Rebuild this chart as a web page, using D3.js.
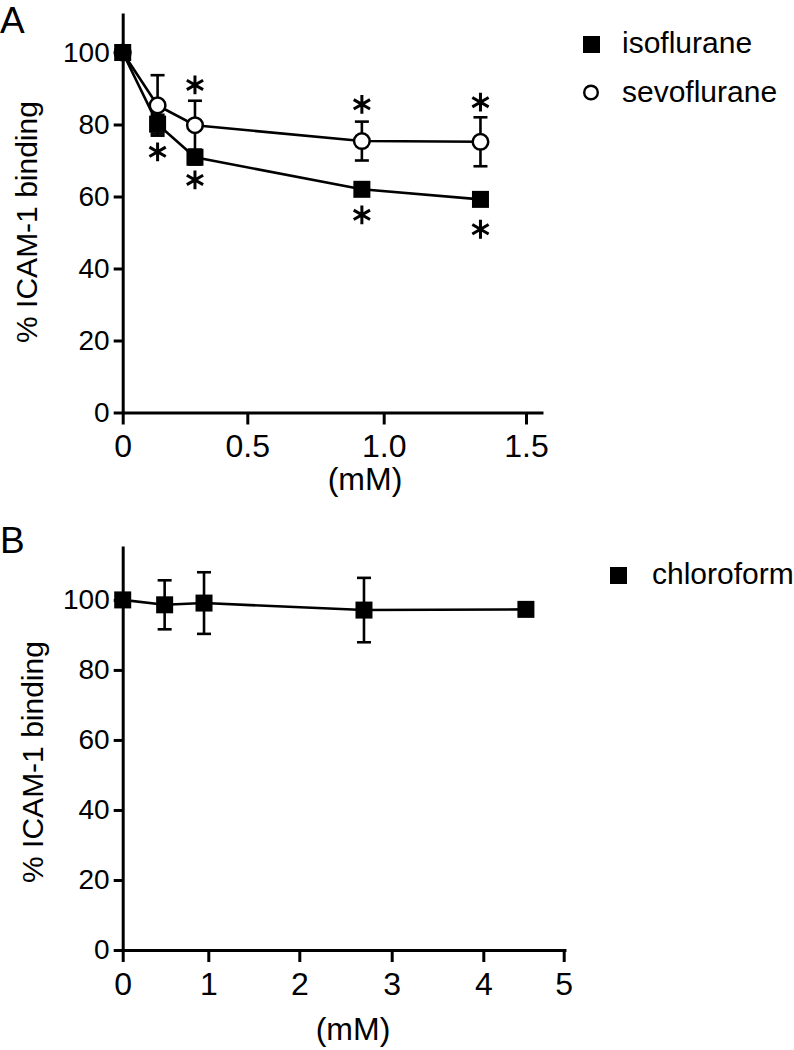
<!DOCTYPE html>
<html>
<head>
<meta charset="utf-8">
<script src="https://cdn.jsdelivr.net/npm/d3@7/dist/d3.min.js"></script>
<style>
  html, body { margin: 0; padding: 0; background: #fff; }
  svg { display: block; }
  text { font-family: "Liberation Sans", Arial, sans-serif; fill: #000; }
</style>
</head>
<body>
<svg id="chart" width="794" height="1050"></svg>
<script>
// ---------- Panel A data ----------
const concA = [0, 0.14, 0.29, 0.92, 1.34];
const isoMean = [100, 80.1, 70.9, 62.0, 59.2];
const isoErr = [0, 2.6, 2.0, 1.0, 1.0];
const sevoMean = [100, 85.3, 79.8, 75.4, 75.2];
const sevoErr = [0, 8.4, 6.8, 5.4, 6.8];
const isoStar = [null, 72.4, 64.6, 54.9, 50.9];
const sevoStar = [null, null, 91.0, 85.6, 86.2];
const xTicksA = [0, 0.5, 1.0, 1.5];
const xTickLabelsA = ["0", "0.5", "1.0", "1.5"];
const yTicks = [0, 20, 40, 60, 80, 100];
const legendA = ["isoflurane", "sevoflurane"];

// ---------- Panel B data ----------
const concB = [0, 0.49, 0.95, 2.7, 4.53];
const chloroMean = [100, 98.6, 99.1, 97.1, 97.3];
const chloroErr = [0, 7.0, 8.8, 9.2, 0];
const xTicksB = [0, 1, 2, 3, 4, 5];
const legendB = ["chloroform"];

const svg = d3.select("#chart");
const LW = 2.6;
const NARROW = '"Liberation Sans Narrow", "Arial Narrow", "Liberation Sans", Arial, sans-serif';

function drawAxes(g, x, y, xTicks, xLabels) {
  const ay = g.append("g")
    .attr("transform", `translate(${x(0)},0)`)
    .call(d3.axisLeft(y).tickValues(yTicks).tickSize(9).tickSizeOuter(0).tickPadding(4).tickFormat(d3.format("d")));
  ay.select(".domain").attr("stroke-width", 3);
  ay.selectAll(".tick line").attr("stroke-width", 3);
  ay.selectAll(".tick text").attr("font-size", 28).attr("font-family", '"Liberation Sans", Arial, sans-serif');

  const ax = g.append("g")
    .attr("transform", `translate(0,${y(0)})`)
    .call(d3.axisBottom(x).tickValues(xTicks).tickSize(12).tickSizeOuter(0).tickPadding(10)
      .tickFormat((d, i) => xLabels[i]));
  ax.select(".domain").attr("stroke-width", 3);
  ax.selectAll(".tick line").attr("stroke-width", 3);
  ax.selectAll(".tick text").attr("font-size", 32).attr("font-family", NARROW);
}

function drawSeries(g, x, y, conc, mean, err, shape) {
  const pts = conc.map((c, i) => ({ c, m: mean[i], e: err[i] }));
  g.append("path")
    .datum(pts)
    .attr("fill", "none")
    .attr("stroke", "#000")
    .attr("stroke-width", LW)
    .attr("d", d3.line().x(d => x(d.c)).y(d => y(d.m)));
  const eb = g.append("g").attr("stroke", "#000").attr("stroke-width", LW);
  pts.filter(d => d.e > 0).forEach(d => {
    const cx = x(d.c);
    eb.append("line").attr("x1", cx).attr("x2", cx).attr("y1", y(d.m + d.e)).attr("y2", y(d.m - d.e));
    eb.append("line").attr("x1", cx - 7).attr("x2", cx + 7).attr("y1", y(d.m + d.e)).attr("y2", y(d.m + d.e));
    eb.append("line").attr("x1", cx - 7).attr("x2", cx + 7).attr("y1", y(d.m - d.e)).attr("y2", y(d.m - d.e));
  });
  if (shape === "square") {
    g.selectAll(null).data(pts).enter().append("rect")
      .attr("x", d => x(d.c) - 8.5).attr("y", d => y(d.m) - 8.5)
      .attr("width", 17).attr("height", 17).attr("fill", "#000");
  } else {
    g.selectAll(null).data(pts).enter().append("circle")
      .attr("cx", d => x(d.c)).attr("cy", d => y(d.m)).attr("r", 7.8)
      .attr("fill", "#fff").attr("stroke", "#000").attr("stroke-width", 2.5);
  }
}

function drawStars(g, x, y, conc, stars) {
  const sym = d3.symbol().type(d3.symbolAsterisk).size(250);
  conc.forEach((c, i) => {
    if (stars[i] == null) return;
    g.append("path").attr("d", sym())
      .attr("transform", `translate(${x(c)},${y(stars[i])})`)
      .attr("fill", "none").attr("stroke", "#000").attr("stroke-width", 3);
  });
}

// ---------- Panel A ----------
const gA = svg.append("g");
const xA = d3.scaleLinear().domain([0, 0.5, 1.0, 1.5, 1.56]).range([122.7, 247.3, 383.7, 526, 543]);
const yA = d3.scaleLinear().domain([0, 111]).range([412.5, 12.9]);
drawAxes(gA, xA, yA, xTicksA, xTickLabelsA);
drawSeries(gA, xA, yA, concA, sevoMean, sevoErr, "circle");
drawSeries(gA, xA, yA, concA, isoMean, isoErr, "square");
drawStars(gA, xA, yA, concA, isoStar);
drawStars(gA, xA, yA, concA, sevoStar);

gA.append("text").attr("x", 0).attr("y", 33).attr("font-size", 37).text("A");
gA.append("text").attr("transform", "translate(37,222) rotate(-90)")
  .attr("text-anchor", "middle").attr("font-size", 30).text("% ICAM-1 binding");
gA.append("text").attr("x", 365).attr("y", 490).attr("text-anchor", "middle")
  .attr("font-size", 32).attr("font-family", NARROW).text("(mM)");

// legend A
const legA = gA.append("g");
legA.append("rect").attr("x", 583).attr("y", 36).attr("width", 17).attr("height", 17).attr("fill", "#000");
legA.append("text").attr("x", 622).attr("y", 53).attr("font-size", 30).text(legendA[0]);
legA.append("circle").attr("cx", 591).attr("cy", 92.5).attr("r", 6.8)
  .attr("fill", "#fff").attr("stroke", "#000").attr("stroke-width", 2.4);
legA.append("text").attr("x", 622).attr("y", 102).attr("font-size", 30).text(legendA[1]);

// ---------- Panel B ----------
const gB = svg.append("g");
const xB = d3.scaleLinear().domain([0, 1, 2, 3, 4, 5, 5.03]).range([122.7, 208.3, 299.3, 391.7, 483.3, 563.7, 566]);
const yB = d3.scaleLinear().domain([0, 115.4]).range([950, 546]);
drawAxes(gB, xB, yB, xTicksB, xTicksB.map(String));
drawSeries(gB, xB, yB, concB, chloroMean, chloroErr, "square");

gB.append("text").attr("x", 0).attr("y", 553).attr("font-size", 37).text("B");
gB.append("text").attr("transform", "translate(43,762) rotate(-90)")
  .attr("text-anchor", "middle").attr("font-size", 30).text("% ICAM-1 binding");
gB.append("text").attr("x", 353).attr("y", 1040).attr("text-anchor", "middle")
  .attr("font-size", 32).attr("font-family", NARROW).text("(mM)");

const legB = gB.append("g");
legB.append("rect").attr("x", 610).attr("y", 567).attr("width", 17).attr("height", 17).attr("fill", "#000");
legB.append("text").attr("x", 652).attr("y", 584).attr("font-size", 30).text(legendB[0]);
</script>
</body>
</html>
